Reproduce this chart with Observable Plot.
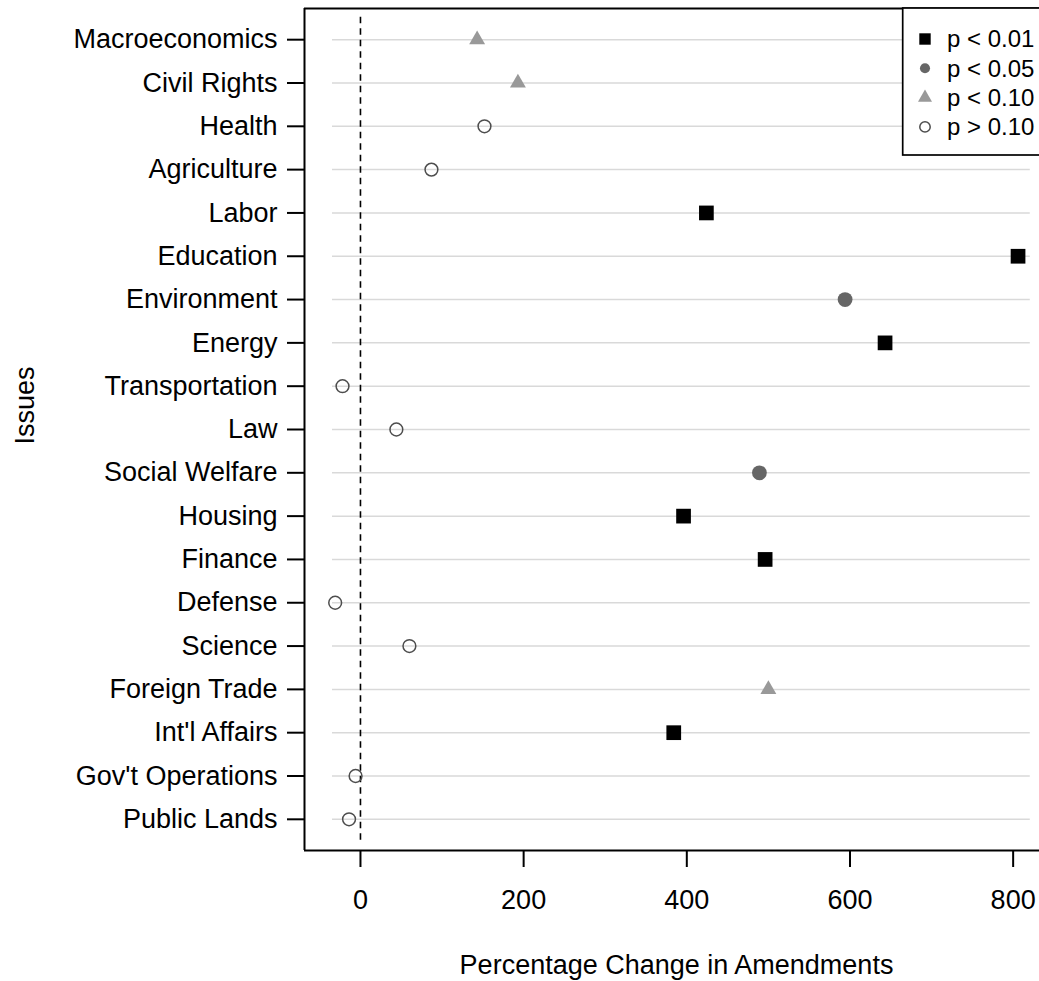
<!DOCTYPE html>
<html><head><meta charset="utf-8">
<script src="https://cdn.jsdelivr.net/npm/d3@7"></script>
<script src="https://cdn.jsdelivr.net/npm/@observablehq/plot@0.6"></script>
<style>
body{margin:0;background:#fff;font-family:"Liberation Sans",Arial,sans-serif;}
#wrap{position:relative;width:1039px;height:981px;overflow:hidden;background:#fff;}
#legend{position:absolute;left:0;top:0;}
</style></head><body><div id="wrap"></div>
<script>
const issues = ["Macroeconomics","Civil Rights","Health","Agriculture","Labor","Education","Environment","Energy","Transportation","Law","Social Welfare","Housing","Finance","Defense","Science","Foreign Trade","Int'l Affairs","Gov't Operations","Public Lands"];
const pctChange = [143, 193, 152, 87, 424, 806, 594, 643, -22, 44, 489, 396, 496, -31, 60, 500, 384, -6, -14];
const significance = ["p < 0.10","p < 0.10","p > 0.10","p > 0.10","p < 0.01","p < 0.01","p < 0.05","p < 0.01","p > 0.10","p > 0.10","p < 0.05","p < 0.01","p < 0.01","p > 0.10","p > 0.10","p < 0.10","p < 0.01","p > 0.10","p > 0.10"];
const xTicks = [0, 200, 400, 600, 800];
const levels = ["p < 0.01","p < 0.05","p < 0.10","p > 0.10"];

const rows = issues.map((issue, i) => ({issue, rank: i + 1, value: pctChange[i], sig: significance[i]}));

const FONT = '"Liberation Sans", Arial, sans-serif';
const xDomain = [-68.6, 832.3];
const yDomain = [0.28, 19.72];
const gridFrom = -34.3, gridTo = 821;

const styles = {
  "p < 0.01": {symbol: "square", r: 8.3, fill: "black", stroke: "none", strokeWidth: 0},
  "p < 0.05": {symbol: "circle", r: 7.4, fill: "#666666", stroke: "none", strokeWidth: 0},
  "p < 0.10": {symbol: "triangle", r: 5.9, fill: "#999999", stroke: "none", strokeWidth: 0},
  "p > 0.10": {symbol: "circle", r: 6.4, fill: "none", stroke: "#4d4d4d", strokeWidth: 1.5}
};

const dotMarks = levels.map(l => Plot.dot(rows.filter(d => d.sig === l), {
  x: "value", y: "rank", symbol: styles[l].symbol, r: styles[l].r,
  fill: styles[l].fill, stroke: styles[l].stroke, strokeWidth: styles[l].strokeWidth
}));

const chart = Plot.plot({
  width: 1039, height: 981,
  marginLeft: 304, marginRight: 0, marginTop: 8, marginBottom: 131,
  style: {fontFamily: FONT, background: "white", color: "black"},
  x: {domain: xDomain, label: null},
  y: {domain: yDomain, reverse: true, label: null},
  marks: [
    Plot.ruleY(rows, {y: "rank", x1: gridFrom, x2: gridTo, stroke: "#d9d9d9", strokeWidth: 1.5}),
    Plot.ruleX([0], {y1: 0.48, y2: 19.52, stroke: "black", strokeWidth: 1.6, strokeDasharray: "6.5,5"}),
    ...dotMarks,
    Plot.ruleY([yDomain[0], yDomain[1]], {x1: xDomain[0], x2: xDomain[1], stroke: "black", strokeWidth: 2}),
    Plot.ruleX([xDomain[0]], {y1: yDomain[0], y2: yDomain[1], stroke: "black", strokeWidth: 2}),
    Plot.axisX({ticks: xTicks, tickSize: 17, tickPadding: 22, fontSize: 27, label: null, strokeWidth: 2, tickFormat: d => String(d)}),
    Plot.axisY({ticks: d3.range(1, 20), tickFormat: i => issues[i - 1], tickSize: 17, tickPadding: 10, fontSize: 27, label: null, strokeWidth: 2}),
    Plot.text(["Percentage Change in Amendments"], {frameAnchor: "bottom", dy: 123, dx: 4.5, lineAnchor: "bottom", fontSize: 27, fill: "black"}),
    Plot.text(["Issues"], {frameAnchor: "left", dx: -271, dy: 15, rotate: -90, lineAnchor: "bottom", fontSize: 27, fill: "black"})
  ]
});

const wrap = document.getElementById("wrap");
wrap.appendChild(chart);

// Legend
const lg = d3.select(wrap).append("svg").attr("id", "legend")
  .attr("width", 1039).attr("height", 981)
  .style("pointer-events", "none");
lg.append("rect").attr("x", 902.7).attr("y", 8).attr("width", 200).attr("height", 147)
  .attr("fill", "white").attr("stroke", "black").attr("stroke-width", 1.7);
const legSize = {"p < 0.01": 130, "p < 0.05": 80, "p < 0.10": 85, "p > 0.10": 85};
const symMap = {square: d3.symbolSquare, circle: d3.symbolCircle, triangle: d3.symbolTriangle};
levels.forEach((l, i) => {
  const cy = 39 + i * 29.3;
  const s = styles[l];
  lg.append("path")
    .attr("d", d3.symbol(symMap[s.symbol], legSize[l])())
    .attr("transform", `translate(925,${cy})`)
    .attr("fill", s.fill).attr("stroke", s.stroke).attr("stroke-width", s.strokeWidth);
  lg.append("text").attr("x", 947).attr("y", cy).attr("dy", "0.35em")
    .attr("font-family", FONT).attr("font-size", 24).attr("fill", "black").text(l);
});
</script></body></html>
